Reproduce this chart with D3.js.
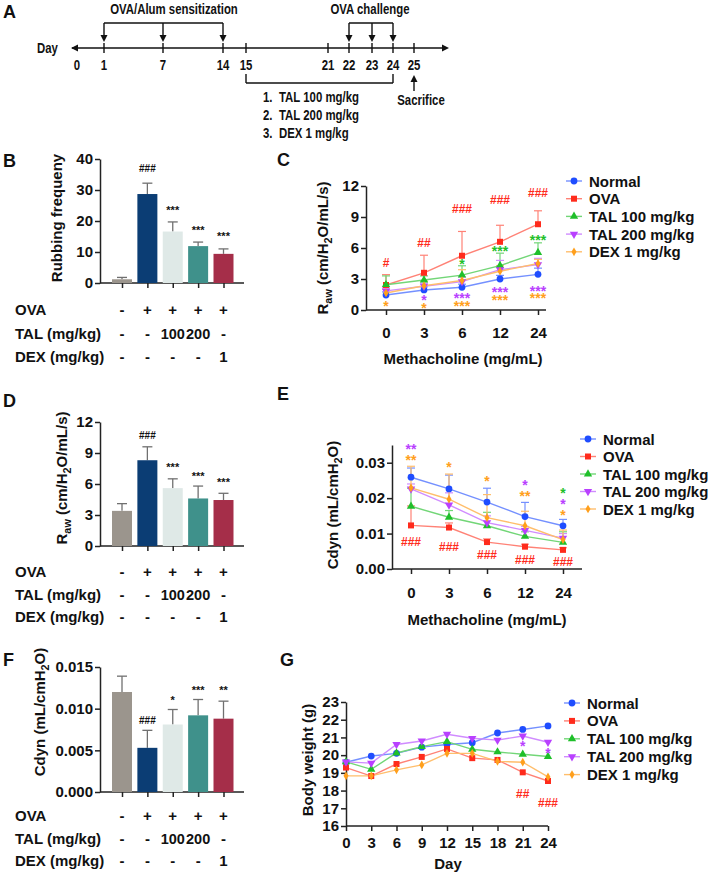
<!DOCTYPE html>
<html>
<head>
<meta charset="utf-8">
<script src="https://cdn.jsdelivr.net/npm/d3@7"></script>
<style>
  body { margin: 0; background: #fff; }
  svg { display: block; }
</style>
</head>
<body>
<script>
// ---------- data ----------
// panel A timeline
const timelineDays = [0, 1, 7, 14, 15, 21, 22, 23, 24, 25];
const sensitizationDays = [1, 7, 14];
const challengeDays = [22, 23, 24];
const treatmentSpan = [15, 24];
const sacrificeDay = 25;
const treatments = ["TAL 100 mg/kg", "TAL 200 mg/kg", "DEX 1 mg/kg"];

// bar panels
const barGroups = ["Normal", "OVA", "TAL100", "TAL200", "DEX"];
const ovaRow = ["-", "+", "+", "+", "+"];
const talRow = ["-", "-", "100", "200", "-"];
const dexRow = ["-", "-", "-", "-", "1"];

const rubMean = [1.2, 28.7, 16.6, 11.9, 9.4];
const rubErr = [0.6, 3.5, 3.1, 1.3, 1.6];
const rubSig = ["", "###", "***", "***", "***"];
const rubSigAt = [0, 37, 24.5, 18, 16.1];

const rawBarMean = [3.4, 8.3, 5.6, 4.6, 4.45];
const rawBarErr = [0.7, 1.3, 0.9, 1.2, 0.65];
const rawBarSig = ["", "###", "***", "***", "***"];
const rawBarSigAt = [0, 10.75, 7.9, 7.05, 6.4];

const cdynBarMean = [0.0120, 0.0053, 0.0081, 0.0092, 0.0088];
const cdynBarErr = [0.0019, 0.0021, 0.0018, 0.0019, 0.0021];
const cdynBarSig = ["", "###", "*", "***", "**"];
const cdynBarSigAt = [0, 0.0086, 0.0114, 0.0126, 0.0125];

// line panels
const seriesNames = ["Normal", "OVA", "TAL 100 mg/kg", "TAL 200 mg/kg", "DEX 1 mg/kg"];
const doses = ["0", "3", "6", "12", "24"];

const rawNormal = [1.45, 1.94, 2.2, 3.0, 3.45];
const rawOVA = [2.42, 3.6, 5.25, 6.6, 8.3];
const rawTAL100 = [2.45, 2.9, 3.38, 4.3, 5.55];
const rawTAL200 = [1.85, 2.3, 2.75, 3.9, 4.4];
const rawDEX = [1.65, 2.35, 2.85, 3.75, 4.5];
const rawNormalErr = [0.3, 0.3, 0.3, 0.35, 0.6];
const rawOVAErr = [1.0, 1.7, 2.35, 1.6, 1.3];
const rawTAL100Err = [0.85, 0.4, 0.9, 1.2, 0.95];
const rawTAL200Err = [0.3, 0.3, 0.45, 0.9, 0.6];
const rawDEXErr = [0.35, 0.45, 1.05, 0.55, 0.4];
// [series, dose index, label, level]
const rawSig = [
  [1, 0, "#", 4.55], [1, 1, "##", 6.5], [1, 2, "###", 9.8], [1, 3, "###", 10.65], [1, 4, "###", 11.4],
  [2, 2, "*", 4.75], [2, 3, "***", 6.0], [2, 4, "***", 7.15],
  [3, 1, "*", 1.25], [3, 2, "***", 1.45], [3, 3, "***", 2.1], [3, 4, "***", 2.2],
  [4, 0, "*", 0.7], [4, 1, "*", 0.5], [4, 2, "***", 0.7], [4, 3, "***", 1.3], [4, 4, "***", 1.45]
];

const cdynNormal = [0.0259, 0.0226, 0.0189, 0.0148, 0.0122];
const cdynOVA = [0.0123, 0.0117, 0.0076, 0.0063, 0.0054];
const cdynTAL100 = [0.0177, 0.0146, 0.0122, 0.0092, 0.0075];
const cdynTAL200 = [0.0226, 0.0181, 0.0131, 0.0109, 0.0087];
const cdynDEX = [0.0229, 0.0197, 0.0145, 0.0122, 0.0083];
const cdynNormalErr = [0.0026, 0.0039, 0.0039, 0.0040, 0.0018];
const cdynOVAErr = [0.0055, 0.0013, 0.0009, 0.0007, 0.0006];
const cdynTAL100Err = [0.0051, 0.0019, 0.0038, 0.0013, 0.0030];
const cdynTAL200Err = [0.0014, 0.0034, 0.0019, 0.0011, 0.0013];
const cdynDEXErr = [0.0061, 0.0071, 0.0065, 0.0041, 0.0027];
const cdynSig = [
  [3, 0, "**", 0.0348], [4, 0, "**", 0.0317], [4, 1, "*", 0.0297], [4, 2, "*", 0.0258],
  [3, 3, "*", 0.0246], [4, 3, "**", 0.0215], [2, 4, "*", 0.0224], [3, 4, "*", 0.0193], [4, 4, "*", 0.0161],
  [1, 0, "###", 0.0076], [1, 1, "###", 0.0062], [1, 2, "###", 0.0040], [1, 3, "###", 0.0025], [1, 4, "###", 0.0020]
];

const days = [0, 3, 6, 9, 12, 15, 18, 21, 24];
const bwNormal = [19.6, 19.95, 20.1, 20.45, 20.6, 20.7, 21.25, 21.45, 21.65];
const bwOVA = [19.3, 18.82, 19.5, 19.9, 20.35, 19.83, 19.73, 19.03, 18.54];
const bwTAL100 = [19.62, 19.2, 20.12, 20.48, 20.76, 20.33, 20.18, 20.05, 19.92];
const bwTAL200 = [19.62, 19.55, 20.6, 20.8, 21.18, 20.95, 20.85, 21.08, 20.73];
const bwDEX = [18.83, 18.83, 19.17, 19.45, 20.1, 20.1, 19.65, 19.6, 18.77];
const bwSig = [[3, 7, "*", 20.7], [3, 8, "*", 20.3], [1, 7, "##", 17.8], [1, 8, "###", 17.3]];

// ---------- styles ----------
const FONT = "'Liberation Sans', Arial, Helvetica, sans-serif";
const barColors = ["#9b958d", "#0b3d74", "#dfe9e7", "#3f918b", "#a52e49"];
const markColors = ["#1f4dff", "#ff2b1c", "#1fbf2a", "#b940ff", "#ff9f1c"];
const lineColors = ["#7490ff", "#ff8276", "#72d677", "#d08cff", "#ffbe6c"];
const symbols = [d3.symbolCircle, d3.symbolSquare, d3.symbolTriangle, d3.symbolTriangle, d3.symbolDiamond];
const symSize = [36, 36, 30, 30, 22];

const svg = d3.select("body").append("svg").attr("width", 708).attr("height", 872);
svg.append("rect").attr("width", 708).attr("height", 872).attr("fill", "#fff");

function txt(x, y, s, o = {}) {
  return svg.append("text")
    .attr("x", x).attr("y", y)
    .attr("font-family", FONT)
    .attr("font-weight", "bold")
    .attr("font-size", o.fs || 15)
    .attr("text-anchor", o.anchor || "start")
    .attr("fill", o.fill || "#111")
    .text(s);
}

// condensed text for the timeline (no narrow font installed, so squeeze it)
function ntxt(x, y, s, anchor = "start", fs = 15) {
  return svg.append("text")
    .attr("transform", `translate(${x},${y}) scale(0.76,1)`)
    .attr("font-family", FONT).attr("font-weight", "bold")
    .attr("font-size", fs).attr("text-anchor", anchor).attr("fill", "#111")
    .text(s);
}

// rotated y label, parts = [[text, isSub], ...]
function vlabel(x, y, parts, fs = 15) {
  const t = svg.append("text")
    .attr("transform", `translate(${x},${y}) rotate(-90)`)
    .attr("text-anchor", "middle")
    .attr("font-family", FONT).attr("font-weight", "bold")
    .attr("font-size", fs).attr("fill", "#111");
  let shifted = false;
  parts.forEach(([s, sub]) => {
    const sp = t.append("tspan").text(s);
    if (sub && !shifted) { sp.attr("font-size", fs * 0.72).attr("dy", 4); shifted = true; }
    else if (!sub && shifted) { sp.attr("dy", -4); shifted = false; }
  });
}

function styleAxis(sel, fs = 15) {
  sel.selectAll("path, line").attr("stroke", "#222").attr("stroke-width", 1.5);
  sel.selectAll("text").attr("font-family", FONT).attr("font-weight", "bold")
    .attr("font-size", fs).attr("fill", "#111");
}

// annotation glyph centred on y
function sigText(x, y, s, color, fs) {
  const off = s.includes("#") ? 0.36 : 0.6;
  txt(x, y + off * fs, s, { fs: fs, anchor: "middle", fill: color });
}

function arrowHead(x, y, dir) {
  const h = 7, w = 3.5;
  const d = dir === "down"
    ? `M${x - w},${y - h}L${x + w},${y - h}L${x},${y}Z`
    : dir === "up" ? `M${x - w},${y + h}L${x + w},${y + h}L${x},${y}Z`
    : dir === "right" ? `M${x - h},${y - w}L${x - h},${y + w}L${x},${y}Z`
    : `M${x + h},${y - w}L${x + h},${y + w}L${x},${y}Z`;
  svg.append("path").attr("d", d).attr("fill", "#111");
}

function hline(x1, x2, y, w = 1.4) {
  svg.append("line").attr("x1", x1).attr("x2", x2).attr("y1", y).attr("y2", y)
    .attr("stroke", "#111").attr("stroke-width", w);
}
function vline(x, y1, y2, w = 1.4) {
  svg.append("line").attr("x1", x).attr("x2", x).attr("y1", y1).attr("y2", y2)
    .attr("stroke", "#111").attr("stroke-width", w);
}

// ---------- panel letters ----------
[["A", 3, 18], ["B", 3, 167], ["C", 277, 166], ["D", 3, 407], ["E", 277, 400], ["F", 3, 666], ["G", 280, 666]]
  .forEach(([l, x, y]) => txt(x, y, l, { fs: 18 }));

// ---------- panel A ----------
const tl = d3.scaleLinear().domain(timelineDays)
  .range([77, 104, 163, 223, 246, 328, 349, 372, 393, 414]);
const tlY = 48;
hline(72, 447, tlY);
arrowHead(449, tlY, "right");
arrowHead(71, tlY, "left");
timelineDays.filter(d => d > 0).forEach(d => vline(tl(d), tlY - 5, tlY + 5));
timelineDays.forEach(d => ntxt(tl(d), 70, d, "middle"));
ntxt(37, 53, "Day");

function bracketDown(daysArr, title, titleX) {
  const x0 = tl(d3.min(daysArr)), x1 = tl(d3.max(daysArr));
  hline(x0, x1, 23);
  daysArr.forEach(d => { vline(tl(d), 23, 36); arrowHead(tl(d), 42, "down"); });
  ntxt(titleX, 14, title, "middle");
}
bracketDown(sensitizationDays, "OVA/Alum sensitization", 174);
bracketDown(challengeDays, "OVA challenge", 370);

hline(tl(treatmentSpan[0]), tl(treatmentSpan[1]), 83);
treatmentSpan.forEach(d => vline(tl(d), 74, 83));
treatments.forEach((t, i) => {
  ntxt(263, 102 + i * 18, `${i + 1}.`);
  ntxt(279, 102 + i * 18, t);
});
vline(tl(sacrificeDay), 81, 91);
arrowHead(tl(sacrificeDay), 75, "up");
ntxt(421, 105, "Sacrifice", "middle");

// ---------- bar panels ----------
function barPanel(o) {
  const axX = 100;
  const y = d3.scaleLinear().domain(o.domain).range([o.y0, o.y1]);
  const x = d3.scalePoint().domain(barGroups).range([122, 223.5]);
  const ya = svg.append("g").attr("transform", `translate(${axX},0)`)
    .call(d3.axisLeft(y).tickValues(o.ticks).tickFormat(o.fmt).tickSize(5).tickPadding(2).tickSizeOuter(0));
  styleAxis(ya);
  const xa = svg.append("g").attr("transform", `translate(0,${o.y0})`)
    .call(d3.axisBottom(x).tickSize(5).tickFormat(""));
  xa.select(".domain").remove();
  xa.append("line").attr("x1", axX).attr("x2", 244);
  styleAxis(xa);

  const g = svg.append("g");
  // error bars (upward)
  o.mean.forEach((m, i) => {
    const cx = x(barGroups[i]);
    g.append("line").attr("x1", cx).attr("x2", cx).attr("y1", y(m)).attr("y2", y(m + o.err[i]))
      .attr("stroke", "#707070").attr("stroke-width", 1.3);
    g.append("line").attr("x1", cx - 5).attr("x2", cx + 5).attr("y1", y(m + o.err[i])).attr("y2", y(m + o.err[i]))
      .attr("stroke", "#707070").attr("stroke-width", 1.3);
  });
  g.selectAll("rect").data(o.mean).join("rect")
    .attr("x", (d, i) => x(barGroups[i]) - 10)
    .attr("width", 20)
    .attr("y", d => y(d))
    .attr("height", d => o.y0 - y(d))
    .attr("fill", (d, i) => barColors[i]);
  o.sig.forEach((s, i) => {
    if (s) sigText(x(barGroups[i]), y(o.sigAt[i]), s, "#111", s.includes("#") ? 10 : 11);
  });
  // condition table
  const rows = [["OVA", ovaRow], ["TAL (mg/kg)", talRow], ["DEX (mg/kg)", dexRow]];
  rows.forEach(([lab, vals], r) => {
    const ty = o.y0 + o.rowStart + r * o.rowStep;
    txt(15, ty, lab, { fs: 15 });
    vals.forEach((v, i) => txt(x(barGroups[i]), ty, v, { fs: v.length > 1 ? 14.5 : 15, anchor: "middle" }));
  });
  vlabel(o.labX, o.labY, o.label);
}

barPanel({ domain: [0, 40], y0: 283, y1: 159, ticks: [0, 10, 20, 30, 40], fmt: d3.format("d"),
  mean: rubMean, err: rubErr, sig: rubSig, sigAt: rubSigAt, rowStart: 32, rowStep: 23.5,
  labX: 62, labY: 218, label: [["Rubbing frequeny"]] });

barPanel({ domain: [0, 12], y0: 546, y1: 422, ticks: [0, 3, 6, 9, 12], fmt: d3.format("d"),
  mean: rawBarMean, err: rawBarErr, sig: rawBarSig, sigAt: rawBarSigAt, rowStart: 31, rowStep: 22.5,
  labX: 67, labY: 478, label: [["R"], ["aw", 1], [" (cm/H"], ["2", 1], ["O/mL/s)"]] });

barPanel({ domain: [0, 0.015], y0: 792, y1: 667, ticks: [0, 0.005, 0.010, 0.015], fmt: d3.format(".3f"),
  mean: cdynBarMean, err: cdynBarErr, sig: cdynBarSig, sigAt: cdynBarSigAt, rowStart: 29, rowStep: 22.5,
  labX: 45, labY: 712, label: [["Cdyn (mL/cmH"], ["2", 1], ["O)"]] });

// ---------- line panels ----------
function linePanel(o) {
  const y = d3.scaleLinear().domain(o.domain).range([o.y0, o.y1]);
  const x = o.x;
  const ya = svg.append("g").attr("transform", `translate(${o.axX},0)`)
    .call(d3.axisLeft(y).tickValues(o.ticks).tickFormat(o.fmt).tickSize(5).tickPadding(2).tickSizeOuter(0));
  styleAxis(ya);
  const xa = svg.append("g").attr("transform", `translate(0,${o.y0})`)
    .call(d3.axisBottom(x).tickValues(o.xTicks).tickSize(5).tickPadding(o.xPad).tickSizeOuter(0));
  xa.select(".domain").remove();
  xa.insert("line", ":first-child").attr("x1", o.axX).attr("x2", o.axEnd);
  styleAxis(xa);

  const g = svg.append("g");
  o.series.forEach((vals, s) => {
    if (o.errs) {
      vals.forEach((v, i) => {
        const cx = x(o.xs[i]), top = y(v + o.errs[s][i]);
        g.append("line").attr("x1", cx).attr("x2", cx).attr("y1", y(v)).attr("y2", top)
          .attr("stroke", lineColors[s]).attr("stroke-width", 1.2);
        g.append("line").attr("x1", cx - 4).attr("x2", cx + 4).attr("y1", top).attr("y2", top)
          .attr("stroke", lineColors[s]).attr("stroke-width", 1.2);
      });
    }
  });
  o.series.forEach((vals, s) => {
    g.append("path").datum(vals)
      .attr("d", d3.line().x((d, i) => x(o.xs[i])).y(d => y(d)))
      .attr("fill", "none").attr("stroke", lineColors[s]).attr("stroke-width", 1.4);
  });
  o.series.forEach((vals, s) => {
    g.selectAll(null).data(vals).join("path")
      .attr("d", d3.symbol(symbols[s], symSize[s]))
      .attr("transform", (d, i) => `translate(${x(o.xs[i])},${y(d)})${s === 3 ? " rotate(180)" : ""}`)
      .attr("fill", markColors[s]);
  });
  o.sig.forEach(([s, i, lab, at]) => {
    sigText(x(o.xs[i]), y(at), lab, markColors[s], lab.includes("#") ? 12 : 14);
  });
  // legend
  seriesNames.forEach((n, s) => {
    const ly = o.legY + s * o.legStep;
    svg.append("line").attr("x1", o.legX - 8).attr("x2", o.legX + 8).attr("y1", ly).attr("y2", ly)
      .attr("stroke", lineColors[s]).attr("stroke-width", 1.4);
    svg.append("path").attr("d", d3.symbol(symbols[s], symSize[s])())
      .attr("transform", `translate(${o.legX},${ly})${s === 3 ? " rotate(180)" : ""}`)
      .attr("fill", markColors[s]);
    txt(o.legX + 15, ly + 5.5, n, { fs: 15 });
  });
  txt(o.titleX, o.titleY, o.title, { fs: 15, anchor: "middle" });
  vlabel(o.labX, o.labY, o.label);
}

linePanel({
  x: d3.scalePoint().domain(doses).range([386, 538]), xs: doses, xTicks: doses, xPad: 12,
  domain: [0, 12], y0: 310, y1: 186, ticks: [0, 3, 6, 9, 12], fmt: d3.format("d"),
  axX: 366, axEnd: 546,
  series: [rawNormal, rawOVA, rawTAL100, rawTAL200, rawDEX],
  errs: [rawNormalErr, rawOVAErr, rawTAL100Err, rawTAL200Err, rawDEXErr],
  sig: rawSig,
  legX: 574, legY: 181, legStep: 17.7,
  title: "Methacholine (mg/mL)", titleX: 463, titleY: 364,
  labX: 328, labY: 248, label: [["R"], ["aw", 1], [" (cm/H"], ["2", 1], ["O/mL/s)"]]
});

linePanel({
  x: d3.scalePoint().domain(doses).range([411, 563]), xs: doses, xTicks: doses, xPad: 13,
  domain: [0, 0.035], y0: 569, y1: 445, ticks: [0, 0.01, 0.02, 0.03], fmt: d3.format(".2f"),
  axX: 392, axEnd: 582,
  series: [cdynNormal, cdynOVA, cdynTAL100, cdynTAL200, cdynDEX],
  errs: [cdynNormalErr, cdynOVAErr, cdynTAL100Err, cdynTAL200Err, cdynDEXErr],
  sig: cdynSig,
  legX: 588, legY: 439, legStep: 17.5,
  title: "Methacholine (mg/mL)", titleX: 487, titleY: 625,
  labX: 338, labY: 505, label: [["Cdyn (mL/cmH"], ["2", 1], ["O)"]]
});

linePanel({
  x: d3.scaleLinear().domain([0, 24]).range([346, 548]), xs: days, xTicks: days, xPad: 6,
  domain: [16, 23], y0: 826, y1: 702, ticks: d3.range(16, 24), fmt: d3.format("d"),
  axX: 346, axEnd: 548,
  series: [bwNormal, bwOVA, bwTAL100, bwTAL200, bwDEX],
  errs: null,
  sig: bwSig,
  legX: 572, legY: 703, legStep: 17.9,
  title: "Day", titleX: 448, titleY: 869,
  labX: 313, labY: 760, label: [["Body weight (g)"]]
});
</script>
</body>
</html>
